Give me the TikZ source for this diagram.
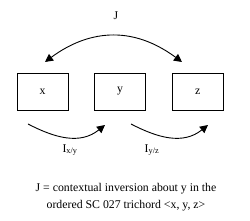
\documentclass[tikz,border=0pt]{standalone}
\usepackage{fontspec}
\setmainfont{Liberation Serif}
\usetikzlibrary{positioning, arrows.meta}

\begin{document}
\begin{tikzpicture}[x=1pt, y=-1pt, >={Triangle[length=8pt, width=8pt]},
    font=\fontsize{11.8}{16.5}\selectfont,
    pc/.style={draw, line width=0.6pt, minimum width=51pt, minimum height=37pt, inner sep=0pt},
    arc/.style={line width=0.9pt}]
    \useasboundingbox (0,0) rectangle (250,221);

    \node[pc] (x) at (42.5,91.5) {x};
    \node[pc] (y) [right=26pt of x] {y};
    \node[pc] (z) [right=26pt of y] {z};

    \coordinate (jl) at (45,62);
    \coordinate (jr) at (182,62);
    \coordinate (xy0) at (28,124);
    \coordinate (xy1) at (105,125);
    \coordinate (yz0) at (131,124);
    \coordinate (yz1) at (208,125);

    \draw[arc, <->] (jl) .. controls (80,36) and (125,20) .. (jr);
    \draw[arc, ->] (xy0) .. controls (55,138) and (80,145) .. (xy1);
    \draw[arc, ->] (yz0) .. controls (158,138) and (183,145) .. (yz1);

    \node (J) at (116,16) {J};
    \node (Ixy) at (70,150) {I\textsubscript{x/y}};
    \node (Iyz) at (152,150) {I\textsubscript{y/z}};

    \node[align=center] (note) at (126,197) {J = contextual inversion about y in the\\ordered SC 027 trichord <x, y, z>};
\end{tikzpicture}
\end{document}
